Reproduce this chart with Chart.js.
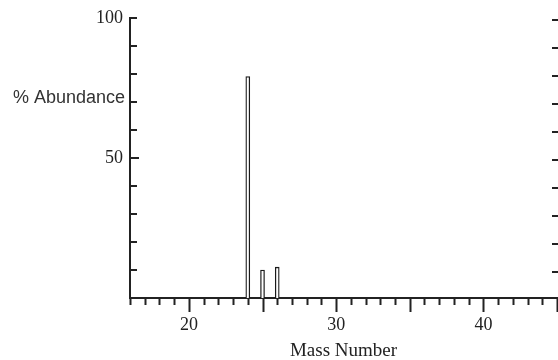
<!DOCTYPE html>
<html>
<head>
<meta charset="utf-8">
<script src="https://cdn.jsdelivr.net/npm/chart.js@4/dist/chart.umd.min.js"></script>
<style>
  html, body { margin: 0; padding: 0; background: #ffffff; }
  #wrap { width: 558px; height: 360px; position: relative; }
</style>
</head>
<body>
<div id="wrap"><canvas id="c" width="558" height="360"></canvas></div>
<script>
// ---- data ----
const massNumbers = [24, 25, 26];
const abundances = [79, 10, 11];
const xLabeledTicks = [20, 30, 40];
const yLabeledTicks = [50, 100];
const xTitle = 'Mass Number';
const yTitle = '% Abundance';

const INK = '#222222';
const SERIF = '"Liberation Serif", "Times New Roman", serif';
const SANS = '"Liberation Sans", Arial, sans-serif';

const tickMarks = {
  id: 'tickMarks',
  afterDraw(chart) {
    const { ctx, chartArea: a, scales } = chart;
    const x = scales.x, y = scales.y, y2 = scales.y2;
    ctx.save();
    ctx.strokeStyle = INK;
    ctx.lineWidth = 2;
    ctx.beginPath();
    x.ticks.forEach(t => {
      const px = Math.round(x.getPixelForValue(t.value)) + 0.5;
      const len = t.value % 5 === 0 ? 14 : 7;
      ctx.moveTo(px, a.bottom);
      ctx.lineTo(px, a.bottom + len);
    });
    y.ticks.forEach(t => {
      if (t.value === 0) return;
      const py = Math.round(y.getPixelForValue(t.value));
      const len = t.value === 50 ? 9 : 7;
      ctx.moveTo(a.left, py);
      ctx.lineTo(a.left + len, py);
    });
    y2.ticks.forEach(t => {
      if (t.value === 0) return;
      const py = Math.round(y2.getPixelForValue(t.value)) + 2;
      ctx.moveTo(a.right + 1, py);
      ctx.lineTo(a.right - 5, py);
    });
    ctx.stroke();
    // horizontal y-axis title, placed beside the axis
    ctx.fillStyle = '#333333';
    ctx.font = '18px ' + SANS;
    ctx.textAlign = 'right';
    ctx.textBaseline = 'middle';
    ctx.fillText(yTitle, a.left - 5, y.getPixelForValue(71.5));
    ctx.restore();
  }
};

new Chart(document.getElementById('c'), {
  type: 'bar',
  data: {
    datasets: [{
      data: massNumbers.map((m, i) => ({ x: m, y: abundances[i] })),
      backgroundColor: '#ffffff',
      borderColor: '#1a1a1a',
      borderWidth: 1.3,
      borderSkipped: 'bottom',
      barThickness: 4
    }]
  },
  options: {
    responsive: false,
    animation: false,
    devicePixelRatio: 1,
    layout: { padding: { top: 17, left: 0, right: 0, bottom: 0 } },
    plugins: { legend: { display: false }, tooltip: { enabled: false } },
    scales: {
      x: {
        type: 'linear',
        position: 'bottom',
        offset: false,
        min: 16,
        max: 45,
        grid: { display: false, drawTicks: true, tickLength: 16, offset: false },
        border: { display: true, color: INK, width: 2 },
        ticks: {
          stepSize: 1,
          autoSkip: false,
          maxRotation: 0,
          padding: 0,
          color: INK,
          font: { family: SERIF, size: 18 },
          callback: v => xLabeledTicks.includes(v) ? String(v) : ''
        },
        title: {
          display: true,
          text: xTitle,
          color: INK,
          font: { family: SERIF, size: 19 },
          padding: { top: 0, bottom: -2 }
        },
        afterFit: s => { s.height = 62; }
      },
      y: {
        type: 'linear',
        position: 'left',
        min: 0,
        max: 100,
        grid: { display: false, drawTicks: false },
        border: { display: true, color: INK, width: 2 },
        ticks: {
          stepSize: 10,
          padding: 7,
          color: INK,
          font: { family: SERIF, size: 18 },
          callback: v => yLabeledTicks.includes(v) ? String(v) : ''
        },
        afterFit: s => { s.width = 130; }
      },
      y2: {
        type: 'linear',
        position: 'right',
        min: 0,
        max: 100,
        grid: { display: false, drawTicks: false },
        border: { display: false },
        ticks: { display: false, stepSize: 10, padding: 0 },
        afterFit: s => { s.width = 1; }
      }
    }
  },
  plugins: [tickMarks]
});
</script>
</body>
</html>
